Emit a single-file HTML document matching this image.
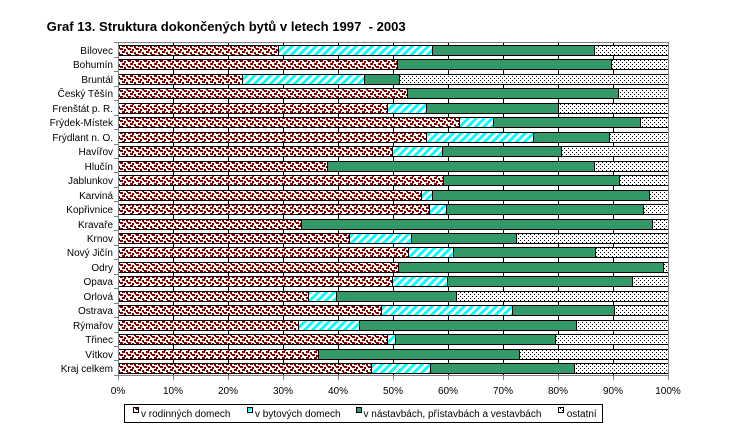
<!DOCTYPE html>
<html><head><meta charset="utf-8"><style>
html,body{margin:0;padding:0;background:#fff;}
svg{display:block;}
text{font-family:"Liberation Sans",Arial,sans-serif;}
</style></head><body>
<svg width="745" height="447" viewBox="0 0 745 447" xmlns="http://www.w3.org/2000/svg">
<defs>
<pattern id="pr" patternUnits="userSpaceOnUse" width="8" height="6">
<rect width="8" height="6" fill="#fff"/>
<rect x="0" y="0" width="3" height="2" fill="#800000"/>
<rect x="4" y="1" width="2" height="2" fill="#800000"/>
<rect x="2" y="3" width="3" height="2" fill="#800000"/>
<rect x="6" y="4" width="2" height="2" fill="#800000"/>
<rect x="7" y="0" width="1" height="1" fill="#800000"/>
</pattern>
<pattern id="pc" patternUnits="userSpaceOnUse" width="5.66" height="5.66" patternTransform="rotate(45)">
<rect width="5.66" height="5.66" fill="#fff"/>
<rect x="0" y="0" width="2.9" height="5.66" fill="#00ffff"/>
</pattern>
<pattern id="po" patternUnits="userSpaceOnUse" width="4" height="4">
<rect width="4" height="4" fill="#fff"/>
<rect x="0" y="0" width="1" height="1" fill="#000"/>
<rect x="2" y="2" width="1" height="1" fill="#000"/>
</pattern>
</defs>
<rect width="745" height="447" fill="#fff"/>
<text x="46.7" y="31" font-size="13" font-weight="bold" textLength="359" lengthAdjust="spacingAndGlyphs">Graf 13. Struktura dokončených bytů v letech 1997&#160; - 2003</text>

<g stroke="#000" stroke-width="1">
<line x1="173.5" y1="42" x2="173.5" y2="375"/>
<line x1="228.5" y1="42" x2="228.5" y2="375"/>
<line x1="283.5" y1="42" x2="283.5" y2="375"/>
<line x1="338.5" y1="42" x2="338.5" y2="375"/>
<line x1="393.5" y1="42" x2="393.5" y2="375"/>
<line x1="448.5" y1="42" x2="448.5" y2="375"/>
<line x1="503.5" y1="42" x2="503.5" y2="375"/>
<line x1="558.5" y1="42" x2="558.5" y2="375"/>
<line x1="613.5" y1="42" x2="613.5" y2="375"/>
</g>

<g stroke="#000" stroke-width="1">
<rect x="118.5" y="45.5" width="160" height="10" fill="url(#pr)"/><rect x="278.5" y="45.5" width="154" height="10" fill="url(#pc)"/><rect x="432.5" y="45.5" width="162" height="10" fill="#339966"/><rect x="594.5" y="45.5" width="74" height="10" fill="url(#po)"/>
<rect x="118.5" y="59.5" width="279" height="10" fill="url(#pr)"/><rect x="397.5" y="59.5" width="214" height="10" fill="#339966"/><rect x="611.5" y="59.5" width="57" height="10" fill="url(#po)"/>
<rect x="118.5" y="74.5" width="124" height="10" fill="url(#pr)"/><rect x="242.5" y="74.5" width="122" height="10" fill="url(#pc)"/><rect x="364.5" y="74.5" width="35" height="10" fill="#339966"/><rect x="399.5" y="74.5" width="269" height="10" fill="url(#po)"/>
<rect x="118.5" y="88.5" width="289" height="10" fill="url(#pr)"/><rect x="407.5" y="88.5" width="211" height="10" fill="#339966"/><rect x="618.5" y="88.5" width="50" height="10" fill="url(#po)"/>
<rect x="118.5" y="103.5" width="269" height="10" fill="url(#pr)"/><rect x="387.5" y="103.5" width="39" height="10" fill="url(#pc)"/><rect x="426.5" y="103.5" width="132" height="10" fill="#339966"/><rect x="558.5" y="103.5" width="110" height="10" fill="url(#po)"/>
<rect x="118.5" y="117.5" width="341" height="10" fill="url(#pr)"/><rect x="459.5" y="117.5" width="34" height="10" fill="url(#pc)"/><rect x="493.5" y="117.5" width="147" height="10" fill="#339966"/><rect x="640.5" y="117.5" width="28" height="10" fill="url(#po)"/>
<rect x="118.5" y="132.5" width="308" height="10" fill="url(#pr)"/><rect x="426.5" y="132.5" width="107" height="10" fill="url(#pc)"/><rect x="533.5" y="132.5" width="76" height="10" fill="#339966"/><rect x="609.5" y="132.5" width="59" height="10" fill="url(#po)"/>
<rect x="118.5" y="146.5" width="274" height="10" fill="url(#pr)"/><rect x="392.5" y="146.5" width="50" height="10" fill="url(#pc)"/><rect x="442.5" y="146.5" width="119" height="10" fill="#339966"/><rect x="561.5" y="146.5" width="107" height="10" fill="url(#po)"/>
<rect x="118.5" y="161.5" width="209" height="10" fill="url(#pr)"/><rect x="327.5" y="161.5" width="267" height="10" fill="#339966"/><rect x="594.5" y="161.5" width="74" height="10" fill="url(#po)"/>
<rect x="118.5" y="175.5" width="325" height="10" fill="url(#pr)"/><rect x="443.5" y="175.5" width="176" height="10" fill="#339966"/><rect x="619.5" y="175.5" width="49" height="10" fill="url(#po)"/>
<rect x="118.5" y="190.5" width="303" height="10" fill="url(#pr)"/><rect x="421.5" y="190.5" width="11" height="10" fill="url(#pc)"/><rect x="432.5" y="190.5" width="217" height="10" fill="#339966"/><rect x="649.5" y="190.5" width="19" height="10" fill="url(#po)"/>
<rect x="118.5" y="204.5" width="311" height="10" fill="url(#pr)"/><rect x="429.5" y="204.5" width="17" height="10" fill="url(#pc)"/><rect x="446.5" y="204.5" width="197" height="10" fill="#339966"/><rect x="643.5" y="204.5" width="25" height="10" fill="url(#po)"/>
<rect x="118.5" y="219.5" width="183" height="10" fill="url(#pr)"/><rect x="301.5" y="219.5" width="351" height="10" fill="#339966"/><rect x="652.5" y="219.5" width="16" height="10" fill="url(#po)"/>
<rect x="118.5" y="233.5" width="231" height="10" fill="url(#pr)"/><rect x="349.5" y="233.5" width="62" height="10" fill="url(#pc)"/><rect x="411.5" y="233.5" width="105" height="10" fill="#339966"/><rect x="516.5" y="233.5" width="152" height="10" fill="url(#po)"/>
<rect x="118.5" y="247.5" width="290" height="10" fill="url(#pr)"/><rect x="408.5" y="247.5" width="45" height="10" fill="url(#pc)"/><rect x="453.5" y="247.5" width="142" height="10" fill="#339966"/><rect x="595.5" y="247.5" width="73" height="10" fill="url(#po)"/>
<rect x="118.5" y="262.5" width="280" height="10" fill="url(#pr)"/><rect x="398.5" y="262.5" width="265" height="10" fill="#339966"/><rect x="663.5" y="262.5" width="5" height="10" fill="url(#po)"/>
<rect x="118.5" y="276.5" width="274" height="10" fill="url(#pr)"/><rect x="392.5" y="276.5" width="55" height="10" fill="url(#pc)"/><rect x="447.5" y="276.5" width="185" height="10" fill="#339966"/><rect x="632.5" y="276.5" width="36" height="10" fill="url(#po)"/>
<rect x="118.5" y="291.5" width="190" height="10" fill="url(#pr)"/><rect x="308.5" y="291.5" width="28" height="10" fill="url(#pc)"/><rect x="336.5" y="291.5" width="120" height="10" fill="#339966"/><rect x="456.5" y="291.5" width="212" height="10" fill="url(#po)"/>
<rect x="118.5" y="305.5" width="263" height="10" fill="url(#pr)"/><rect x="381.5" y="305.5" width="131" height="10" fill="url(#pc)"/><rect x="512.5" y="305.5" width="102" height="10" fill="#339966"/><rect x="614.5" y="305.5" width="54" height="10" fill="url(#po)"/>
<rect x="118.5" y="320.5" width="180" height="10" fill="url(#pr)"/><rect x="298.5" y="320.5" width="61" height="10" fill="url(#pc)"/><rect x="359.5" y="320.5" width="217" height="10" fill="#339966"/><rect x="576.5" y="320.5" width="92" height="10" fill="url(#po)"/>
<rect x="118.5" y="334.5" width="269" height="10" fill="url(#pr)"/><rect x="387.5" y="334.5" width="8" height="10" fill="url(#pc)"/><rect x="395.5" y="334.5" width="160" height="10" fill="#339966"/><rect x="555.5" y="334.5" width="113" height="10" fill="url(#po)"/>
<rect x="118.5" y="349.5" width="200" height="10" fill="url(#pr)"/><rect x="318.5" y="349.5" width="201" height="10" fill="#339966"/><rect x="519.5" y="349.5" width="149" height="10" fill="url(#po)"/>
<rect x="118.5" y="363.5" width="253" height="10" fill="url(#pr)"/><rect x="371.5" y="363.5" width="59" height="10" fill="url(#pc)"/><rect x="430.5" y="363.5" width="144" height="10" fill="#339966"/><rect x="574.5" y="363.5" width="94" height="10" fill="url(#po)"/>
</g>

<g stroke="#808080" stroke-width="1" fill="none">
<line x1="118" y1="42.5" x2="669" y2="42.5"/>
<line x1="668.5" y1="42" x2="668.5" y2="376"/>
<line x1="118.5" y1="42" x2="118.5" y2="376"/>
<line x1="118" y1="375.5" x2="669" y2="375.5"/>
<line x1="114" y1="42.5" x2="118" y2="42.5"/>
<line x1="114" y1="57.5" x2="118" y2="57.5"/>
<line x1="114" y1="71.5" x2="118" y2="71.5"/>
<line x1="114" y1="86.5" x2="118" y2="86.5"/>
<line x1="114" y1="100.5" x2="118" y2="100.5"/>
<line x1="114" y1="115.5" x2="118" y2="115.5"/>
<line x1="114" y1="129.5" x2="118" y2="129.5"/>
<line x1="114" y1="144.5" x2="118" y2="144.5"/>
<line x1="114" y1="158.5" x2="118" y2="158.5"/>
<line x1="114" y1="172.5" x2="118" y2="172.5"/>
<line x1="114" y1="187.5" x2="118" y2="187.5"/>
<line x1="114" y1="201.5" x2="118" y2="201.5"/>
<line x1="114" y1="216.5" x2="118" y2="216.5"/>
<line x1="114" y1="230.5" x2="118" y2="230.5"/>
<line x1="114" y1="245.5" x2="118" y2="245.5"/>
<line x1="114" y1="259.5" x2="118" y2="259.5"/>
<line x1="114" y1="274.5" x2="118" y2="274.5"/>
<line x1="114" y1="288.5" x2="118" y2="288.5"/>
<line x1="114" y1="303.5" x2="118" y2="303.5"/>
<line x1="114" y1="317.5" x2="118" y2="317.5"/>
<line x1="114" y1="332.5" x2="118" y2="332.5"/>
<line x1="114" y1="346.5" x2="118" y2="346.5"/>
<line x1="114" y1="360.5" x2="118" y2="360.5"/>
<line x1="114" y1="375.5" x2="118" y2="375.5"/>
<line x1="118.5" y1="375" x2="118.5" y2="380"/>
<line x1="173.5" y1="375" x2="173.5" y2="380"/>
<line x1="228.5" y1="375" x2="228.5" y2="380"/>
<line x1="283.5" y1="375" x2="283.5" y2="380"/>
<line x1="338.5" y1="375" x2="338.5" y2="380"/>
<line x1="393.5" y1="375" x2="393.5" y2="380"/>
<line x1="448.5" y1="375" x2="448.5" y2="380"/>
<line x1="503.5" y1="375" x2="503.5" y2="380"/>
<line x1="558.5" y1="375" x2="558.5" y2="380"/>
<line x1="613.5" y1="375" x2="613.5" y2="380"/>
<line x1="668.5" y1="375" x2="668.5" y2="380"/>
</g>

<g font-size="10" text-anchor="end" fill="#000">
<text x="113" y="54">Bílovec</text>
<text x="113" y="68">Bohumín</text>
<text x="113" y="83">Bruntál</text>
<text x="113" y="97">Český Těšín</text>
<text x="113" y="112">Frenštát p. R.</text>
<text x="113" y="126">Frýdek-Místek</text>
<text x="113" y="141">Frýdlant n. O.</text>
<text x="113" y="155">Havířov</text>
<text x="113" y="170">Hlučín</text>
<text x="113" y="184">Jablunkov</text>
<text x="113" y="199">Karviná</text>
<text x="113" y="213">Kopřivnice</text>
<text x="113" y="228">Kravaře</text>
<text x="113" y="242">Krnov</text>
<text x="113" y="256">Nový Jičín</text>
<text x="113" y="271">Odry</text>
<text x="113" y="285">Opava</text>
<text x="113" y="300">Orlová</text>
<text x="113" y="314">Ostrava</text>
<text x="113" y="329">Rýmařov</text>
<text x="113" y="343">Třinec</text>
<text x="113" y="358">Vítkov</text>
<text x="113" y="372">Kraj celkem</text>
</g>

<g font-size="10" text-anchor="middle" fill="#000">
<text x="118" y="394">0%</text>
<text x="173" y="394">10%</text>
<text x="228" y="394">20%</text>
<text x="283" y="394">30%</text>
<text x="338" y="394">40%</text>
<text x="393" y="394">50%</text>
<text x="448" y="394">60%</text>
<text x="503" y="394">70%</text>
<text x="558" y="394">80%</text>
<text x="613" y="394">90%</text>
<text x="668" y="394">100%</text>
</g>

<rect x="124.5" y="404.5" width="478" height="18" fill="#fff" stroke="#000" stroke-width="1"/>
<g stroke="#000" stroke-width="1">
<rect x="133.5" y="407.5" width="5" height="5" fill="url(#pr)"/>
<rect x="247.5" y="407.5" width="5" height="5" fill="url(#pc)"/>
<rect x="356.5" y="407.5" width="5" height="5" fill="#339966"/>
<rect x="558.5" y="407.5" width="5" height="5" fill="url(#po)"/>
</g>
<g font-size="10" fill="#000">
<text x="141" y="417">v rodinných domech</text>
<text x="255" y="417">v bytových domech</text>
<text x="363.5" y="417">v nástavbách, přístavbách a vestavbách</text>
<text x="566.7" y="417">ostatní</text>
</g>
</svg>
</body></html>
